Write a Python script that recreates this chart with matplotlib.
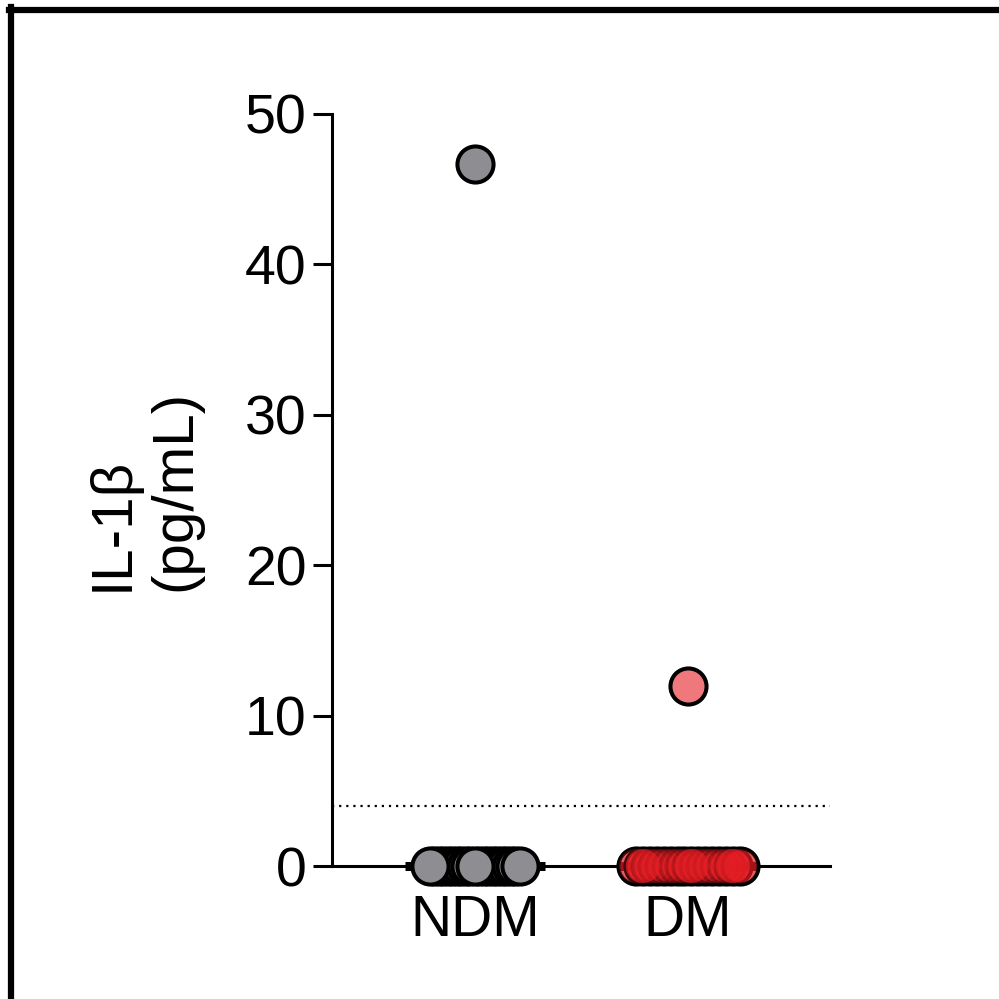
import numpy as np
import matplotlib
matplotlib.use("Agg")
import matplotlib.pyplot as plt
from matplotlib.lines import Line2D

plt.rcParams['font.family'] = ['Liberation Sans', 'DejaVu Sans']

# data
groups = ['NDM', 'DM']
ndm_values = [46.7,
              0, 0, 0, 0, 0, 0, 0, 0, 0, 0,
              0, 0, 0, 0, 0, 0, 0, 0, 0, 0, 0]
dm_values = [12.0,
             0, 0, 0, 0, 0, 0, 0, 0, 0, 0,
             0, 0, 0, 0, 0, 0]
lod = 4.0

gray = '#8E8D92'
red = '#E31E24'


def spread(values, width):
    # place tied values side by side, like a scatter dot plot
    vals = np.asarray(values, dtype=float)
    offs = np.zeros(len(vals))
    tied = np.zeros(len(vals), dtype=bool)
    for v in np.unique(vals):
        idx = np.where(vals == v)[0]
        if len(idx) > 1:
            offs[idx] = np.linspace(-width, width, len(idx))
            tied[idx] = True
    return offs, tied


fig = plt.figure(figsize=(9.99, 9.99), dpi=100)
ax = fig.add_axes([0.3323, 0.1331, 0.4985, 0.7528])

ms = 26
ew = 2.9

# NDM: opaque grey dots, three of the tied ones drawn last
x0 = 1
v = np.array(ndm_values)
off, tied = spread(ndm_values, 0.211)
idx = np.where(tied)[0]
front = [idx[0], idx[len(idx) // 2], idx[-1]]
back = [i for i in range(len(v)) if i not in front]
ax.scatter(x0 + off[back], v[back], s=ms ** 2, c=gray, edgecolors='black',
           linewidths=ew, zorder=4, clip_on=False)
ax.scatter(x0 + off[front], v[front], s=ms ** 2, c=gray, edgecolors='black',
           linewidths=ew, zorder=5, clip_on=False)

# DM: translucent red dots; tied ones overlap and tint each other's outlines
x1 = 2
v = np.array(dm_values)
off, tied = spread(dm_values, 0.244)
idx = np.where(tied)[0]
front = [idx[1], idx[len(idx) // 2], idx[-2]]
ax.scatter(x1 + off, v, s=ms ** 2, facecolors=matplotlib.colors.to_rgba(red, 0.6),
           edgecolors='black', linewidths=ew, zorder=4, clip_on=False)
ax.scatter(x1 + off[tied], v[tied], s=(ms - 1.5) ** 2,
           facecolors=matplotlib.colors.to_rgba(red, 0.3),
           edgecolors='none', zorder=4.5, clip_on=False)
ax.scatter(x1 + off[front], v[front], s=(ms - 1.5) ** 2,
           facecolors=matplotlib.colors.to_rgba(red, 0.6),
           edgecolors='none', zorder=4.6, clip_on=False)

# median lines
for xc, vals in zip([x0, x1], [ndm_values, dm_values]):
    med = np.median(vals)
    ax.plot([xc - 0.33, xc + 0.33], [med, med], color='black', lw=6.5,
            solid_capstyle='butt', zorder=3, clip_on=False)

# detection limit
ax.axhline(lod, color='black', lw=1.6, ls=(0, (1, 2.2)), zorder=2)

ax.set_xlim(0.329, 2.667)
ax.set_ylim(0, 50)
ax.set_yticks([0, 10, 20, 30, 40, 50])
ax.set_xticks([x0, x1])
ax.set_xticklabels(groups)

for s in ['top', 'right']:
    ax.spines[s].set_visible(False)
for s in ['left', 'bottom']:
    ax.spines[s].set_linewidth(2.2)
ax.tick_params(axis='y', length=13.5, width=2.2, pad=5, labelsize=40)
ax.tick_params(axis='x', length=0, pad=20, labelsize=41)

ax.set_ylabel('IL-1\u03b2\n(pg/mL)', fontsize=42, linespacing=1.22,
              multialignment='left', labelpad=30)

# frame lines on the top and left edge of the picture
fig.add_artist(Line2D([0.009, 1.0], [0.990, 0.990], color='black', lw=4.5,
                      transform=fig.transFigure))
fig.add_artist(Line2D([0.0115, 0.0115], [0.0, 0.993], color='black', lw=4.5,
                      transform=fig.transFigure))

fig.savefig('out.png', dpi=100)
